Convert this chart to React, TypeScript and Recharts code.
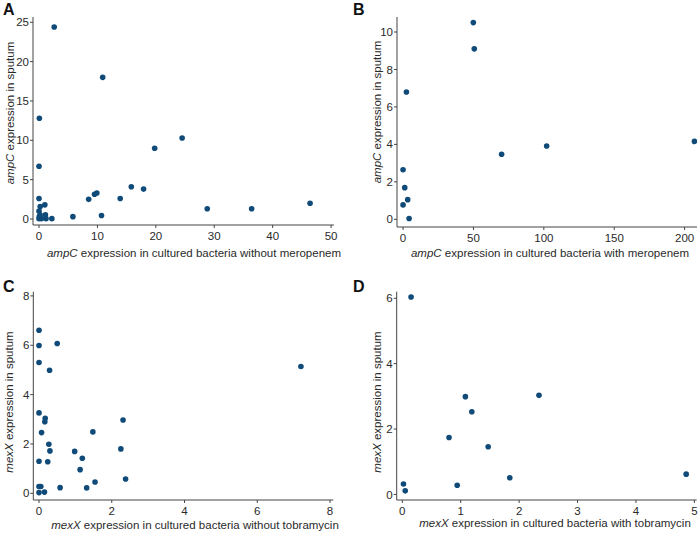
import React from "react";
import { ScatterChart, Scatter, XAxis, YAxis, Label } from "recharts";

// Panel A: ampC without meropenem
const aX = [2.6, 10.9, 0.06, 0.0, 24.5, 19.8, 15.8, 17.9, 9.9, 9.5, 8.5, 13.9, 28.8, 36.4, 46.4, 10.7, 5.8, 2.2, 1.0, 1.1, 1.2, 0.0, 0.2, 0.0, 0.2, 0.0, 0.4, 0.05];
const aY = [24.4, 18.0, 12.8, 6.7, 10.3, 9.0, 4.1, 3.8, 3.3, 3.15, 2.5, 2.6, 1.3, 1.3, 2.0, 0.45, 0.3, 0.05, 1.8, 0.55, 0.05, 2.6, 1.6, 1.0, 0.5, 0.05, 0.05, 0.3];
// Panel B: ampC with meropenem
const bX = [49.9, 50.6, 2.4, 70, 102, 207, 0, 1.2, 3.3, 0, 4.3];
const bY = [10.5, 9.1, 6.8, 3.47, 3.91, 4.16, 2.65, 1.69, 1.05, 0.77, 0.04];
// Panel C: mexX without tobramycin
const cX = [0, 0, 0, 0.5, 0.29, 7.2, 0, 0.17, 0.16, 0.07, 2.31, 1.48, 0.27, 0.3, 0.98, 2.25, 1.19, 0, 0.24, 1.13, 2.38, 1.54, 0.58, 1.31, 0, 0.05, 0, 0.15];
const cY = [6.61, 5.99, 5.3, 6.07, 4.99, 5.14, 3.26, 3.04, 2.9, 2.46, 2.97, 2.49, 1.99, 1.72, 1.7, 1.8, 1.42, 1.3, 1.28, 0.96, 0.58, 0.46, 0.23, 0.22, 0.28, 0.28, 0.03, 0.05];
// Panel D: mexX with tobramycin
const dX = [0.15, 1.08, 2.34, 1.19, 0.8, 1.47, 1.84, 4.86, 0.02, 0.05, 0.94];
const dY = [6.04, 2.99, 3.03, 2.53, 1.74, 1.46, 0.51, 0.62, 0.32, 0.11, 0.28];

const aXTicks = [0, 10, 20, 30, 40, 50];
const aYTicks = [0, 5, 10, 15, 20, 25];
const bXTicks = [0, 50, 100, 150, 200];
const bYTicks = [0, 2, 4, 6, 8, 10];
const cXTicks = [0, 2, 4, 6, 8];
const cYTicks = [0, 2, 4, 6, 8];
const dXTicks = [0, 1, 2, 3, 4, 5];
const dYTicks = [0, 2, 4, 6];

const FONT = "'Liberation Sans', Arial, Helvetica, sans-serif";
const DOT = "#0f4a78";
const AXIS = "#444";
const TXT = "#2a2a2a";

const toData = (xs: number[], ys: number[]) => xs.map((x, i) => ({ x, y: ys[i] }));

const Dot = (props: any) => <circle cx={props.cx} cy={props.cy} r={2.8} fill={DOT} />;

type PanelProps = {
  letter: string;
  gene: string;
  xRest: string;
  left: number;
  top: number;
  width: number;
  height: number;
  margin: { top: number; right: number; bottom: number; left: number };
  yWidth: number;
  xHeight: number;
  xDomain: [number, number];
  yDomain: [number, number];
  xTicks: number[];
  yTicks: number[];
  data: { x: number; y: number }[];
  xLabelPos: { x: number; y: number };
  yLabelPos: { x: number; y: number };
};

const Panel = (p: PanelProps) => {
  const xl = () => (
    <text x={p.xLabelPos.x} y={p.xLabelPos.y} textAnchor="middle" fontSize={11.5} fontFamily={FONT} fill={TXT}>
      <tspan fontStyle="italic">{p.gene}</tspan>
      <tspan>{" expression in cultured bacteria " + p.xRest}</tspan>
    </text>
  );
  const yl = () => (
    <text
      x={p.yLabelPos.x}
      y={p.yLabelPos.y}
      textAnchor="middle"
      fontSize={11.5}
      fontFamily={FONT}
      fill={TXT}
      transform={`rotate(-90 ${p.yLabelPos.x} ${p.yLabelPos.y})`}
      dominantBaseline="central"
    >
      <tspan fontStyle="italic">{p.gene}</tspan>
      <tspan>{" expression in sputum"}</tspan>
    </text>
  );
  return (
    <div style={{ position: "absolute", left: p.left, top: p.top, width: p.width, height: p.height }}>
      <div
        style={{
          position: "absolute",
          left: 3,
          top: p.top === 0 ? 1 : 13,
          fontFamily: FONT,
          fontWeight: "bold",
          fontSize: 16,
          lineHeight: "18px",
          color: "#111",
          zIndex: 2,
        }}
      >
        {p.letter}
      </div>
      <ScatterChart width={p.width} height={p.height} margin={p.margin}>
        <XAxis
          type="number"
          dataKey="x"
          domain={p.xDomain}
          ticks={p.xTicks}
          allowDataOverflow
          height={p.xHeight}
          tickSize={3}
          tickMargin={4}
          stroke={AXIS}
          tick={{ fontSize: 11.5, fill: TXT, fontFamily: FONT }}
        >
          <Label content={xl} />
        </XAxis>
        <YAxis
          type="number"
          dataKey="y"
          domain={p.yDomain}
          ticks={p.yTicks}
          allowDataOverflow
          width={p.yWidth}
          tickSize={3}
          tickMargin={1}
          stroke={AXIS}
          tick={{ fontSize: 11.5, fill: TXT, fontFamily: FONT }}
        >
          <Label content={yl} />
        </YAxis>
        <Scatter data={p.data} shape={Dot} isAnimationActive={false} />
      </ScatterChart>
    </div>
  );
};

export default function App() {
  return (
    <div style={{ position: "absolute", left: 0, top: 0, width: 700, height: 535, background: "#fff" }}>
      <Panel
        letter="A"
        gene="ampC"
        xRest="without meropenem"
        left={0}
        top={0}
        width={350}
        height={265}
        margin={{ top: 17, right: 16, bottom: 0, left: 0 }}
        yWidth={33}
        xHeight={40}
        xDomain={[-1.03, 50.5]}
        yDomain={[-0.76, 25.67]}
        xTicks={aXTicks}
        yTicks={aYTicks}
        data={toData(aX, aY)}
        xLabelPos={{ x: 194, y: 257 }}
        yLabelPos={{ x: 10, y: 113 }}
      />
      <Panel
        letter="B"
        gene="ampC"
        xRest="with meropenem"
        left={350}
        top={0}
        width={350}
        height={265}
        margin={{ top: 17, right: 3, bottom: 0, left: 0 }}
        yWidth={47}
        xHeight={38}
        xDomain={[-4.3, 208.8]}
        yDomain={[-0.41, 10.8]}
        xTicks={bXTicks}
        yTicks={bYTicks}
        data={toData(bX, bY)}
        xLabelPos={{ x: 200, y: 257 }}
        yLabelPos={{ x: 27, y: 112 }}
      />
      <Panel
        letter="C"
        gene="mexX"
        xRest="without tobramycin"
        left={0}
        top={265}
        width={350}
        height={270}
        margin={{ top: 26.7, right: 16.7, bottom: 0, left: 0 }}
        yWidth={33.3}
        xHeight={35}
        xDomain={[-0.157, 8.09]}
        yDomain={[-0.27, 8.17]}
        xTicks={cXTicks}
        yTicks={cYTicks}
        data={toData(cX, cY)}
        xLabelPos={{ x: 195, y: 263.5 }}
        yLabelPos={{ x: 9, y: 137 }}
      />
      <Panel
        letter="D"
        gene="mexX"
        xRest="with tobramycin"
        left={350}
        top={265}
        width={350}
        height={270}
        margin={{ top: 26.7, right: 3.3, bottom: 0, left: 0 }}
        yWidth={46.7}
        xHeight={35}
        xDomain={[-0.096, 5.04]}
        yDomain={[-0.17, 6.2]}
        xTicks={dXTicks}
        yTicks={dYTicks}
        data={toData(dX, dY)}
        xLabelPos={{ x: 205, y: 262 }}
        yLabelPos={{ x: 27, y: 137 }}
      />
    </div>
  );
}
